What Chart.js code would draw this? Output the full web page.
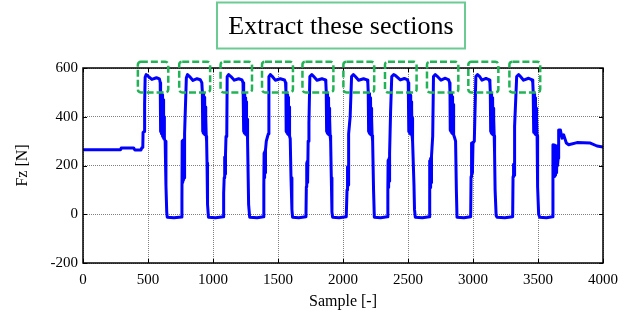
<!DOCTYPE html>
<html>
<head>
<meta charset="utf-8">
<script src="https://cdn.jsdelivr.net/npm/chart.js@4.4.0/dist/chart.umd.min.js"></script>
<style>
  html, body { margin: 0; padding: 0; background: #fff; }
  canvas { display: block; }
</style>
</head>
<body>
<canvas id="fzChart" width="632" height="320"></canvas>
<script>
// ------------ data: [sample, Fz] -------------------------------

const leadIn = [
  [0, 265], [290, 265], [294, 272], [390, 272], [398, 264], [446, 264],
  [452, 272], [460, 274], [462, 335], [470, 340], [474, 450]
];
const cycle1 = [
  [478, 562], [486, 573], [500, 567], [530, 553], [565, 560], [588, 555], [594, 540], [596, 502],
  [598, 340], [600, 500], [602, 335], [604, 496], [606, 330], [608, 490], [610, 325], [612, 482],
  [614, 320], [616, 470], [618, 315], [620, 440], [622, 312], [624, 400], [626, 310],
  [632, 300], [638, 120], [644, 10], [648, -12], [700, -14], [758, -11]
];
const cycle2 = [
  [761, 60], [763, 300], [765, 130], [767, 302], [769, 135], [771, 305], [773, 140], [775, 300],
  [777, 150], [779, 305], [784, 330],
  [795, 560], [804, 573], [820, 565], [846, 549], [877, 556], [902, 552], [914, 540], [918, 502],
  [920, 340], [922, 500], [924, 335], [926, 495], [928, 332], [930, 490], [932, 330], [934, 480],
  [936, 328], [938, 465], [940, 326], [942, 440], [944, 324], [946, 400], [948, 320],
  [951, 300], [954, 210], [958, 40], [965, -12], [1020, -14], [1080, -10]
];
const cycle3 = [
  [1082, 85], [1086, 150], [1088, 230], [1090, 155], [1092, 235], [1094, 165], [1096, 240],
  [1100, 319], [1106, 325],
  [1109, 565], [1120, 573], [1138, 565], [1164, 550], [1197, 556], [1223, 551], [1231, 540],
  [1234, 500], [1236, 340], [1238, 498], [1240, 335], [1242, 494], [1244, 332], [1246, 488],
  [1248, 330], [1250, 478], [1252, 328], [1254, 462], [1256, 326], [1258, 430], [1260, 325],
  [1262, 390], [1264, 324], [1268, 300], [1274, 40], [1282, -12], [1340, -14], [1389, -10]
];
const cycle4 = [
  [1391, 120], [1393, 250], [1395, 150], [1397, 255], [1399, 160], [1401, 260], [1403, 170],
  [1405, 265], [1410, 300], [1420, 320], [1426, 330],
  [1430, 565], [1441, 573], [1455, 566], [1479, 550], [1518, 556], [1550, 551], [1558, 540],
  [1561, 502], [1563, 340], [1565, 500], [1567, 336], [1569, 496], [1571, 333], [1573, 490],
  [1575, 330], [1577, 480], [1579, 328], [1581, 466], [1583, 326], [1585, 440], [1587, 324],
  [1589, 400], [1591, 320], [1594, 310], [1600, 150], [1607, 20], [1612, -12], [1660, -14], [1715, -10]
];
const cycle5 = [
  [1718, 113], [1720, 210], [1722, 120], [1724, 215], [1726, 130], [1728, 220], [1730, 140],
  [1732, 300], [1738, 374],
  [1745, 565], [1760, 573], [1775, 565], [1800, 550], [1838, 556], [1864, 551], [1868, 540],
  [1871, 502], [1873, 340], [1875, 500], [1877, 336], [1879, 495], [1881, 332], [1883, 488],
  [1885, 330], [1887, 478], [1889, 328], [1891, 462], [1893, 326], [1895, 435], [1897, 324],
  [1899, 395], [1901, 322], [1905, 300], [1910, 150], [1915, 10], [1920, -12], [1970, -14], [2025, -10]
];
const cycle6 = [
  [2031, 100], [2033, 190], [2035, 110], [2037, 195], [2039, 120], [2041, 200], [2043, 130],
  [2046, 330], [2055, 400],
  [2066, 565], [2080, 573], [2095, 565], [2120, 550], [2158, 556], [2185, 551], [2191, 540],
  [2194, 502], [2196, 340], [2198, 500], [2200, 336], [2202, 495], [2204, 332], [2206, 488],
  [2208, 330], [2210, 478], [2212, 328], [2214, 462], [2216, 326], [2218, 435], [2220, 324],
  [2222, 395], [2224, 322], [2228, 300], [2235, 100], [2241, -12], [2290, -14], [2340, -10]
];
const cycle7 = [
  [2345, 100], [2347, 220], [2349, 110], [2351, 225], [2353, 120], [2355, 230], [2357, 135],
  [2360, 250], [2366, 420],
  [2375, 565], [2390, 573], [2402, 570], [2441, 551], [2472, 557], [2497, 551], [2502, 540],
  [2505, 502], [2507, 340], [2509, 500], [2511, 336], [2513, 495], [2515, 332], [2517, 488],
  [2519, 330], [2521, 478], [2523, 328], [2525, 462], [2527, 326], [2529, 435], [2531, 324],
  [2533, 395], [2535, 322], [2538, 300], [2546, 120], [2550, 20], [2556, -12], [2610, -14], [2664, -10]
];
const cycle8 = [
  [2666, 99], [2668, 220], [2670, 110], [2672, 225], [2674, 120], [2676, 230], [2678, 130],
  [2681, 240], [2690, 320],
  [2696, 565], [2710, 573], [2725, 566], [2754, 550], [2787, 558], [2813, 551], [2820, 540],
  [2823, 502], [2825, 345], [2827, 500], [2829, 342], [2831, 496], [2833, 338], [2835, 490],
  [2837, 335], [2839, 482], [2841, 332], [2843, 470], [2845, 330], [2847, 450], [2849, 328],
  [2851, 420], [2853, 326], [2858, 315], [2866, 300], [2872, 100], [2877, -12], [2930, -14], [2982, -10]
];
const cycle9 = [
  [2985, 154], [2987, 290], [2989, 160], [2991, 292], [2993, 170], [2995, 294], [2997, 180],
  [3000, 292], [3010, 300],
  [3022, 565], [3035, 573], [3050, 566], [3069, 550], [3100, 557], [3125, 551], [3130, 540],
  [3133, 502], [3135, 340], [3137, 500], [3139, 336], [3141, 495], [3143, 332], [3145, 488],
  [3147, 330], [3149, 478], [3151, 328], [3153, 462], [3155, 326], [3157, 435], [3159, 324],
  [3161, 395], [3163, 322], [3166, 250], [3170, 100], [3178, -5], [3185, -12], [3245, -14], [3305, -10]
];
const cycle10 = [
  [3308, 154], [3310, 200], [3312, 156], [3314, 205], [3316, 160], [3318, 210], [3322, 360],
  [3336, 565], [3351, 573], [3365, 565], [3389, 550], [3428, 558], [3454, 551], [3460, 540],
  [3463, 502], [3465, 340], [3467, 500], [3469, 336], [3471, 495], [3473, 332], [3475, 488],
  [3477, 330], [3479, 478], [3481, 328], [3483, 462], [3485, 326], [3487, 435], [3489, 324],
  [3491, 395], [3493, 322], [3497, 113], [3505, 0], [3513, -12], [3565, -14], [3612, -10]
];
const tail = [
  [3615, 285], [3617, 160], [3619, 280], [3621, 155], [3623, 282], [3625, 158], [3627, 284],
  [3629, 155], [3631, 280], [3633, 160], [3635, 282], [3637, 165], [3639, 280], [3641, 170],
  [3643, 278], [3645, 175], [3647, 275], [3650, 200], [3655, 230], [3659, 346], [3672, 346],
  [3685, 312], [3697, 326], [3718, 292], [3736, 285], [3800, 294], [3903, 292], [3954, 280], [4000, 276]
];

// sections marked for extraction (sample ranges and Fz band)
const boxStart = [422, 740, 1058, 1377, 1688, 2003, 2323, 2646, 2964, 3280];
const boxEnd   = [656, 978, 1300, 1615, 1926, 2240, 2566, 2887, 3195, 3517];
const boxLow = 500;
const boxHigh = 626;

const xTicks = [0, 500, 1000, 1500, 2000, 2500, 3000, 3500, 4000];
const yTicks = [-200, 0, 200, 400, 600];

const signal = [].concat(leadIn, cycle1, cycle2, cycle3, cycle4, cycle5,
  cycle6, cycle7, cycle8, cycle9, cycle10, tail).map(p => ({x: p[0], y: p[1]}));

const serif = 'Liberation Serif';

// --------- frame, inner ticks, dashed boxes and the title box

const overlay = {
  id: 'overlay',
  afterDatasetsDraw(chart) {
    const {ctx, chartArea: a, scales: {x, y}} = chart;
    ctx.save();
    ctx.strokeStyle = '#000';
    ctx.lineWidth = 1;
    ctx.beginPath();
    xTicks.forEach(v => {
      const px = Math.round(x.getPixelForValue(v)) + 0.5;
      ctx.moveTo(px, a.bottom); ctx.lineTo(px, a.bottom - 4);
      ctx.moveTo(px, a.top); ctx.lineTo(px, a.top + 4);
    });
    yTicks.forEach(v => {
      const py = Math.round(y.getPixelForValue(v)) + 0.5;
      ctx.moveTo(a.left, py); ctx.lineTo(a.left + 4, py);
      ctx.moveTo(a.right, py); ctx.lineTo(a.right - 4, py);
    });
    ctx.stroke();
    ctx.lineWidth = 1.5;
    ctx.strokeRect(a.left, a.top, a.right - a.left, a.bottom - a.top);

    ctx.strokeStyle = '#22b357';
    ctx.lineWidth = 2.5;
    ctx.setLineDash([7, 3]);
    for (let i = 0; i < boxStart.length; i++) {
      const l = x.getPixelForValue(boxStart[i]);
      const r = x.getPixelForValue(boxEnd[i]);
      const t = y.getPixelForValue(boxHigh);
      const b = y.getPixelForValue(boxLow);
      ctx.beginPath();
      ctx.roundRect(l, t, r - l, b - t, 3);
      ctx.stroke();
    }
    ctx.setLineDash([]);

    ctx.strokeStyle = '#6ccb93';
    ctx.lineWidth = 2;
    ctx.strokeRect(217, 2.5, 248, 46);
    ctx.fillStyle = '#000';
    ctx.font = '26px "' + serif + '"';
    ctx.textAlign = 'center';
    ctx.textBaseline = 'middle';
    ctx.fillText('Extract these sections', 341, 27);
    ctx.restore();
  }
};

const config = {
  type: 'line',
  data: {
    datasets: [{
      data: signal,
      borderColor: '#0000ff',
      borderWidth: 3,
      pointRadius: 0,
      tension: 0,
      fill: false,
      borderJoinStyle: 'round',
      borderCapStyle: 'round'
    }]
  },
  options: {
    responsive: false,
    animation: false,
    layout: {padding: {top: 68, right: 29, left: 0, bottom: 0}},
    plugins: {legend: {display: false}, tooltip: {enabled: false}},
    scales: {
      x: {
        type: 'linear',
        min: 0,
        max: 4000,
        afterBuildTicks: s => { s.ticks = xTicks.map(v => ({value: v})); },
        afterFit: s => { s.height = 57; },
        ticks: {
          autoSkip: false, maxRotation: 0, padding: 8, color: '#000',
          font: {family: serif, size: 15},
          callback: v => String(v)
        },
        grid: {color: '#808080', lineWidth: 1, drawTicks: false},
        border: {display: false, dash: [1, 1]},
        title: {display: true, text: 'Sample [-]', color: '#000',
          font: {family: serif, size: 16}, padding: {top: 0, bottom: 9}}
      },
      y: {
        min: -200,
        max: 600,
        afterBuildTicks: s => { s.ticks = yTicks.map(v => ({value: v})); },
        afterFit: s => { s.width = 83; },
        ticks: {
          padding: 5, color: '#000',
          font: {family: serif, size: 15},
          callback: v => String(v)
        },
        grid: {color: '#808080', lineWidth: 1, drawTicks: false},
        border: {display: false, dash: [1, 1]},
        title: {display: true, text: 'Fz [N]', color: '#000',
          font: {family: serif, size: 16}, padding: {top: 13, bottom: 0}}
      }
    }
  },
  plugins: [overlay]
};

var fzChart = new Chart(document.getElementById('fzChart'), config);
</script>
</body>
</html>
